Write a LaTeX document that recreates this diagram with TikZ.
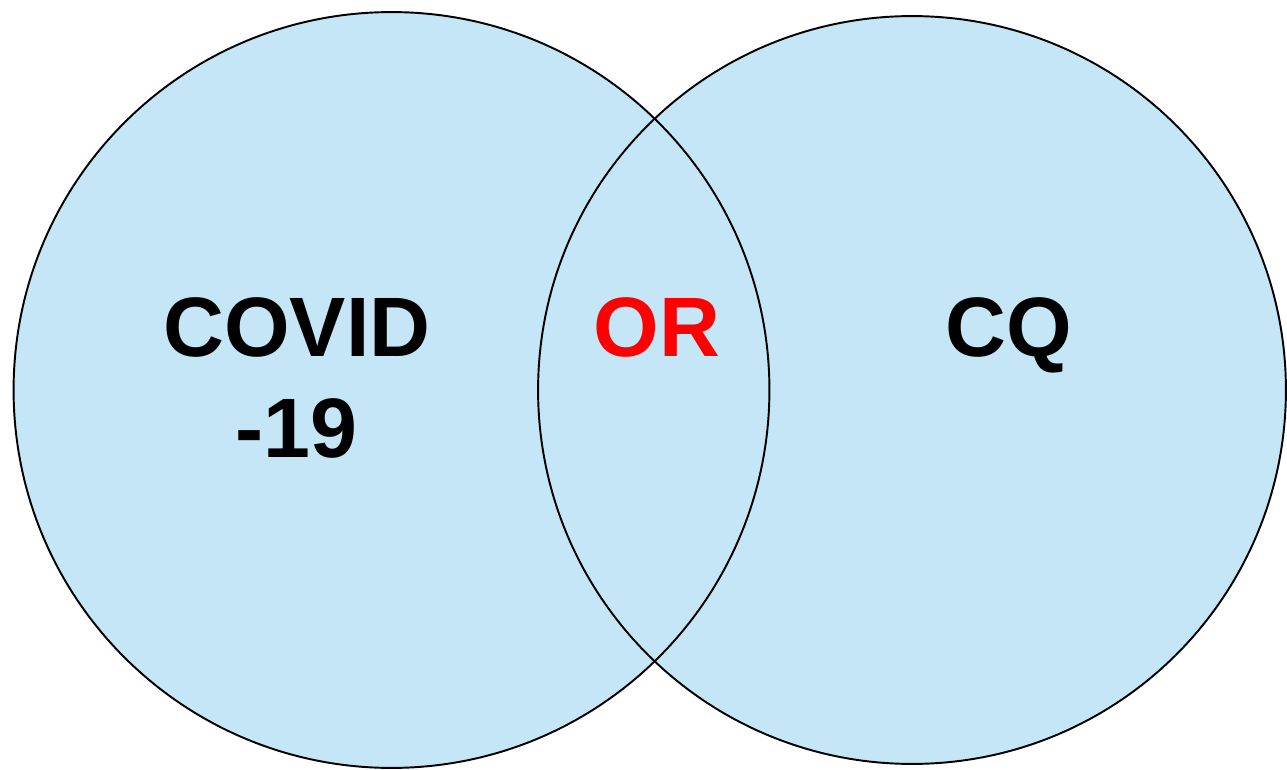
\documentclass[tikz,border=0pt]{standalone}
\usepackage{fontspec}
\setmainfont{Liberation Sans}
\usepackage{color}
\definecolor{setblue}{HTML}{C5E6F7}
\definecolor{orred}{HTML}{FF0000}

\begin{document}
\begin{tikzpicture}[x=0.02cm, y=-0.02cm,
    setfill/.style={fill=setblue},
    setline/.style={draw=black, line width=1.1pt},
    setlabel/.style={anchor=base, inner sep=0pt, font=\fontsize{48}{58}\selectfont\bfseries}]
    \useasboundingbox (0,0) rectangle (1287,770);
    \coordinate (covid) at (391.5,390);
    \coordinate (cq) at (912,390);

    % the two sets
    \fill[setfill] (covid) circle[radius=7.56cm];
    \fill[setfill] (cq) circle[radius=7.48cm];
    \draw[setline] (covid) circle[radius=7.56cm];
    \draw[setline] (cq) circle[radius=7.48cm];

    \node[setlabel] at (297,356)(a) {COVID};
    \node[setlabel] at (296,457)(b) {-19};
    \node[setlabel, text = orred] at (657,356)(c) {OR};
    \node[setlabel] at (1009,356)(d) {CQ};

\end{tikzpicture}
\end{document}
